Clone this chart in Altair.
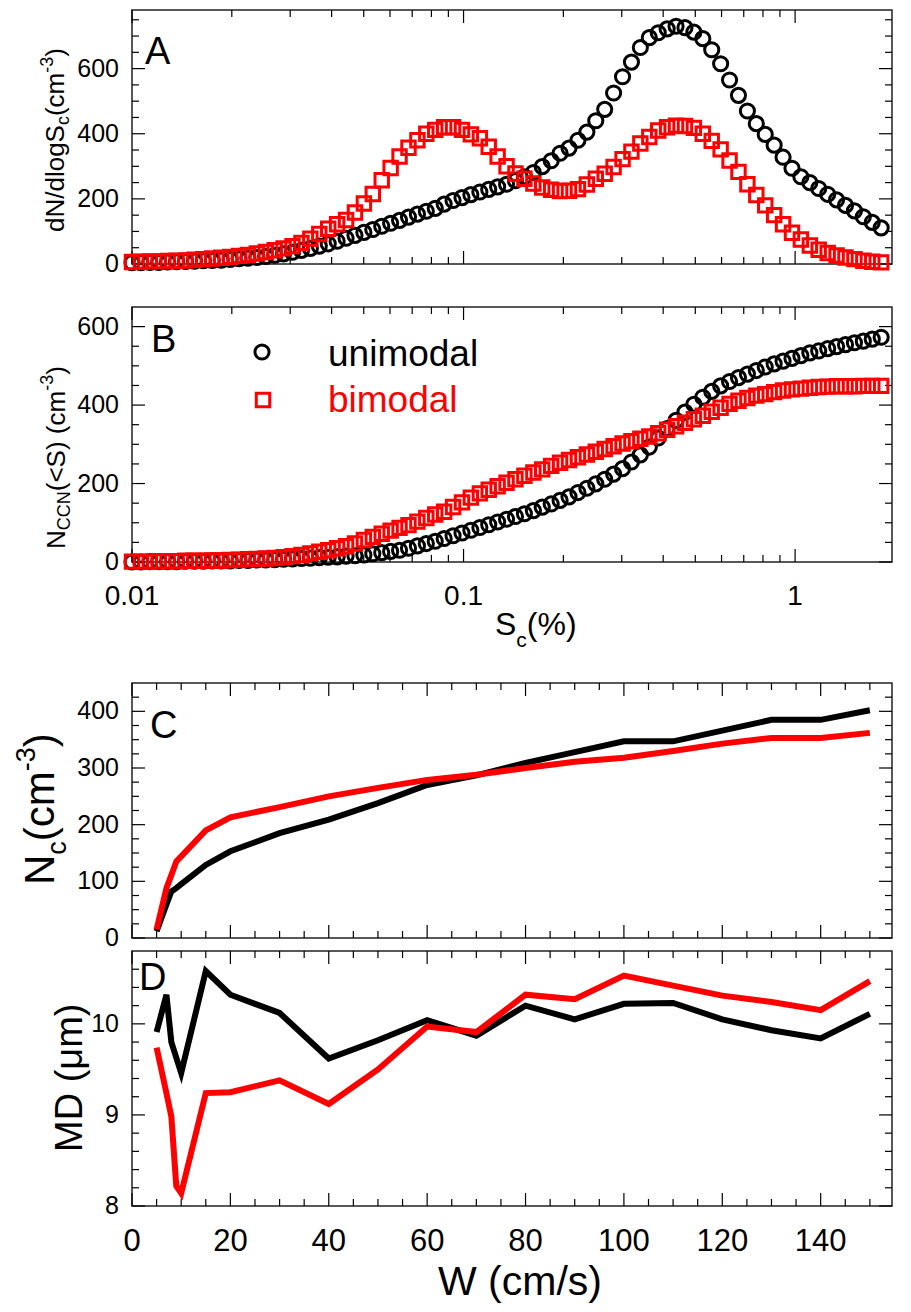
import altair as alt
import pandas as pd

FONT = "Liberation Sans"

# ---------------- data ----------------
S_C = [0.01, 0.01064, 0.01132, 0.01204, 0.01281, 0.01363, 0.0145, 0.01543, 0.01641, 0.01746,
       0.01858, 0.01977, 0.02103, 0.02237, 0.0238, 0.02532, 0.02694, 0.02866, 0.03049, 0.03244,
       0.03451, 0.03672, 0.03907, 0.04156, 0.04422, 0.04704, 0.05005, 0.05325, 0.05665, 0.06027,
       0.06412, 0.06822, 0.07258, 0.07721, 0.08215, 0.0874, 0.09298, 0.09892, 0.1052, 0.112,
       0.1191, 0.1267, 0.1348, 0.1434, 0.1526, 0.1624, 0.1727, 0.1838, 0.1955, 0.208,
       0.2213, 0.2355, 0.2505, 0.2665, 0.2835, 0.3017, 0.3209, 0.3414, 0.3633, 0.3865,
       0.4112, 0.4374, 0.4654, 0.4951, 0.5268, 0.5604, 0.5962, 0.6343, 0.6748, 0.718,
       0.7638, 0.8127, 0.8646, 0.9198, 0.9786, 1.041, 1.108, 1.178, 1.254, 1.334,
       1.419, 1.51, 1.606, 1.709, 1.818]

A_UNIMODAL = [4, 4, 5, 5, 6, 7, 8, 9, 10, 11,
              12, 14, 16, 18, 20, 23, 27, 31, 36, 42,
              48, 55, 62, 70, 79, 88, 97, 106, 116, 125,
              134, 144, 153, 162, 171, 184, 195, 204, 213, 221,
              229, 237, 245, 256, 268, 281, 299, 317, 340, 356,
              380, 405, 440, 475, 525, 575, 620, 665, 695, 710,
              722, 730, 726, 712, 692, 658, 615, 565, 518, 470,
              431, 398, 365, 328, 294, 268, 250, 232, 214, 197,
              180, 163, 145, 128, 111]

A_BIMODAL = [6, 7, 8, 8, 9, 10, 11, 13, 15, 17,
             19, 22, 25, 28, 32, 37, 42, 48, 55, 65,
             78, 92, 108, 122, 135, 158, 186, 215, 257, 295,
             330, 357, 380, 400, 412, 420, 420, 412, 398, 386,
             360, 330, 300, 278, 262, 247, 235, 228, 224, 225,
             230, 244, 262, 277, 298, 322, 345, 370, 390, 410,
             420, 425, 424, 418, 400, 378, 352, 318, 283, 245,
             212, 180, 150, 122, 96, 75, 57, 44, 34, 26,
             20, 15, 10, 7, 5]

B_UNIMODAL = [0, 0, 1, 1, 1, 1, 2, 2, 2, 3,
              3, 3, 4, 4, 5, 5, 6, 7, 8, 9,
              10, 11, 12, 13, 15, 16, 18, 21, 24, 27,
              30, 35, 41, 47, 53, 60, 67, 74, 81, 88,
              95, 102, 109, 116, 123, 131, 140, 148, 157, 166,
              177, 188, 199, 211, 224, 238, 255, 273, 293, 316,
              340, 361, 382, 402, 420, 435, 449, 460, 470, 479,
              488, 497, 505, 512, 519, 526, 533, 538, 544, 549,
              554, 559, 563, 568, 573]

B_BIMODAL = [1, 1, 1, 2, 2, 2, 3, 3, 3, 4,
             4, 5, 6, 7, 8, 9, 10, 12, 15, 18,
             22, 26, 30, 35, 40, 47, 56, 64, 72, 80,
             87, 94, 103, 112, 121, 128, 140, 152, 164, 175,
             184, 193, 202, 211, 220, 228, 236, 245, 253, 260,
             267, 274, 281, 288, 295, 302, 308, 314, 320, 328,
             337, 346, 355, 364, 373, 383, 393, 403, 411, 418,
             424, 428, 433, 437, 440, 442, 444, 446, 447, 448,
             448, 448, 449, 449, 449]

W_CMS = [5, 7, 8, 9, 10, 15, 20, 30, 40, 50, 60, 70, 80, 90, 100, 110, 120, 130, 140, 150]
C_UNIMODAL = [12, 59, 82, 88, 95, 129, 153, 185, 209, 238, 270, 287, 309, 328, 347, 347, 366, 385, 385, 402]
C_BIMODAL = [15, 88, 111, 135, 144, 190, 213, 231, 250, 265, 279, 288, 300, 311, 318, 330, 343, 353, 353, 362]
D_UNIMODAL = [9.91, 10.32, 9.80, 9.63, 9.46, 10.58, 10.32, 10.12, 9.62, 9.82,
              10.04, 9.87, 10.20, 10.05, 10.22, 10.23, 10.05, 9.93, 9.84, 10.11]
D_BIMODAL = [9.74, 9.24, 8.98, 8.22, 8.14, 9.24, 9.25, 9.38, 9.12, 9.50,
             9.97, 9.91, 10.32, 10.27, 10.53, 10.42, 10.31, 10.24, 10.15, 10.47]

# tick positions and tick labels
LOG_MAJOR = [0.01, 0.1, 1]
LOG_LABELS = ["0.01", "0.1", "1"]
LOG_MINOR = [0.02, 0.03, 0.04, 0.05, 0.06, 0.07, 0.08, 0.09,
             0.2, 0.3, 0.4, 0.5, 0.6, 0.7, 0.8, 0.9]
W_MAJOR = [0, 20, 40, 60, 80, 100, 120, 140]
W_MINOR = [5, 10, 15, 25, 30, 35, 45, 50, 55, 65, 70, 75, 85, 90, 95,
           105, 110, 115, 125, 130, 135, 145, 150]
A_Y_MAJOR = [0, 200, 400, 600]
A_Y_MINOR = [50, 100, 150, 250, 300, 350, 450, 500, 550, 650, 700, 750]
B_Y_MAJOR = [0, 200, 400, 600]
B_Y_MINOR = [50, 100, 150, 250, 300, 350, 450, 500, 550]
C_Y_MAJOR = [0, 100, 200, 300, 400]
C_Y_MINOR = [25, 50, 75, 125, 150, 175, 225, 250, 275, 325, 350, 375, 425]
D_Y_MAJOR = [8, 9, 10]
D_Y_MINOR = [8.2, 8.4, 8.6, 8.8, 9.2, 9.4, 9.6, 9.8, 10.2, 10.4, 10.6]

# ---------------- helpers ----------------
PW = 760
MAJ = 13
MIN = 7
TICK_W = 1.2
ONE = pd.DataFrame({"k": [0]})

CHAR_W = {'d': 556, 'N': 722, '/': 278, 'l': 222, 'o': 556, 'g': 556, 'S': 667, 'c': 500,
          '(': 333, 'm': 833, '-': 333, '3': 556, ')': 333, 'C': 722, '<': 584, ' ': 278,
          'M': 833, 'D': 722, 'μ': 576, 'W': 944, 's': 500, '%': 889}


def text_width(s, size):
    return sum(CHAR_W.get(ch, 556) for ch in s) * size / 1000.0


def label(text, x, y, size, color="black", angle=0, align="left"):
    mk = dict(text=text, font=FONT, fontSize=size, color=color, align=align,
              baseline="alphabetic")
    if angle:
        mk["angle"] = angle
    return alt.Chart(ONE).mark_text(**mk).encode(x=alt.value(x), y=alt.value(y))


def vertical_title(parts, x_base, y_start):
    out = []
    y = y_start
    for text, size, shift in parts:
        out.append(label(text, x_base + shift, y, size, angle=270))
        y -= text_width(text, size)
    return out


def horizontal_title(parts, x_start, y_base):
    out = []
    x = x_start
    for text, size, shift in parts:
        out.append(label(text, x, y_base + shift, size))
        x += text_width(text, size)
    return out


def tick_layers(xscale, yscale, xmaj, xmin, ymaj, ymin, H):
    out = []
    for vals, L in ((xmaj, MAJ), (xmin, MIN)):
        d = pd.DataFrame({"v": vals})
        out.append(alt.Chart(d).mark_rule(color="black", strokeWidth=TICK_W).encode(
            x=alt.X("v:Q", scale=xscale, axis=None), y=alt.value(H), y2=alt.value(H - L)))
        out.append(alt.Chart(d).mark_rule(color="black", strokeWidth=TICK_W).encode(
            x=alt.X("v:Q", scale=xscale, axis=None), y=alt.value(0), y2=alt.value(L)))
    for vals, L in ((ymaj, MAJ), (ymin, MIN)):
        d = pd.DataFrame({"v": vals})
        out.append(alt.Chart(d).mark_rule(color="black", strokeWidth=TICK_W).encode(
            y=alt.Y("v:Q", scale=yscale, axis=None), x=alt.value(0), x2=alt.value(L)))
        out.append(alt.Chart(d).mark_rule(color="black", strokeWidth=TICK_W).encode(
            y=alt.Y("v:Q", scale=yscale, axis=None), x=alt.value(PW), x2=alt.value(PW - L)))
    return out


def y_tick_labels(values, yscale, size=25):
    d = pd.DataFrame({"v": values, "lab": [f"{v:g}" for v in values]})
    return alt.Chart(d).mark_text(font=FONT, fontSize=size, align="right", baseline="middle",
                                  color="black").encode(
        y=alt.Y("v:Q", scale=yscale, axis=None), x=alt.value(-13), text="lab:N")


def x_tick_labels(values, texts, xscale, H, size, pad):
    d = pd.DataFrame({"v": values, "lab": texts})
    return alt.Chart(d).mark_text(font=FONT, fontSize=size, align="center", baseline="top",
                                  color="black").encode(
        x=alt.X("v:Q", scale=xscale, axis=None), y=alt.value(H + pad), text="lab:N")


CIRCLE = 200
SQUARE = 180


def points(df, field, shape, color, xscale, yscale, size):
    return alt.Chart(df).mark_point(shape=shape, filled=False, size=size, strokeWidth=3,
                                    color=color, opacity=1).encode(
        x=alt.X("x:Q", scale=xscale, axis=None),
        y=alt.Y(f"{field}:Q", scale=yscale, axis=None),
    )


def line(df, field, color, xscale, yscale):
    return alt.Chart(df).mark_line(color=color, strokeWidth=6).encode(
        x=alt.X("x:Q", scale=xscale, axis=None),
        y=alt.Y(f"{field}:Q", scale=yscale, axis=None),
    )


def spacer(h):
    return alt.Chart(ONE).mark_point(opacity=0).properties(
        width=PW, height=h, view=alt.ViewBackground(stroke="transparent"))


def panel(layers, H):
    return alt.layer(*layers).properties(width=PW, height=H)


# ---------------- panel A ----------------
dfA = pd.DataFrame({"x": S_C, "y1": A_UNIMODAL, "y2": A_BIMODAL})
xs_log = alt.Scale(type="log", domain=[0.01, 1.96], nice=False)
ysA = alt.Scale(domain=[0, 780], nice=False, zero=False)
HA = 254
layersA = tick_layers(xs_log, ysA, LOG_MAJOR, LOG_MINOR, A_Y_MAJOR, A_Y_MINOR, HA)
layersA += [y_tick_labels(A_Y_MAJOR, ysA),
            points(dfA, "y1", "circle", "black", xs_log, ysA, CIRCLE),
            points(dfA, "y2", "square", "red", xs_log, ysA, SQUARE)]
layersA += [label("A", 13, 54, 38)]
layersA += vertical_title(
    [("dN/dlogS", 26, 0), ("c", 18, 5), ("(cm", 26, 0), ("-3", 18, -11), (")", 26, 0)],
    -68, 222)
panelA = panel(layersA, HA)

# ---------------- panel B ----------------
dfB = pd.DataFrame({"x": S_C, "y1": B_UNIMODAL, "y2": B_BIMODAL})
ysB = alt.Scale(domain=[0, 650], nice=False, zero=False)
HB = 255
layersB = tick_layers(xs_log, ysB, LOG_MAJOR, LOG_MINOR, B_Y_MAJOR, B_Y_MINOR, HB)
layersB += [y_tick_labels(B_Y_MAJOR, ysB),
            x_tick_labels(LOG_MAJOR, LOG_LABELS, xs_log, HB, 28, 21),
            points(dfB, "y1", "circle", "black", xs_log, ysB, CIRCLE),
            points(dfB, "y2", "square", "red", xs_log, ysB, SQUARE)]
layersB += [label("B", 19, 45, 38)]
layersB += vertical_title(
    [("N", 26, 0), ("CCN", 18, 5), ("(<S) (cm", 26, 0), ("-3", 18, -12), (")", 26, 0)],
    -67, 242)
layersB += horizontal_title([("S", 32, 0), ("c", 21, 12), ("(%)", 32, 0)], 363, 328)
layersB += [
    alt.Chart(ONE).mark_point(shape="circle", filled=False, size=CIRCLE, strokeWidth=3,
                              color="black", opacity=1).encode(x=alt.value(130), y=alt.value(45)),
    alt.Chart(ONE).mark_point(shape="square", filled=False, size=SQUARE, strokeWidth=3,
                              color="red", opacity=1).encode(x=alt.value(131), y=alt.value(93)),
    label("unimodal", 196, 59, 37),
    label("bimodal", 196, 105, 37, color="red"),
]
panelB = panel(layersB, HB)

# ---------------- panel C ----------------
dfC = pd.DataFrame({"x": W_CMS, "y1": C_UNIMODAL, "y2": C_BIMODAL})
xs_w = alt.Scale(domain=[0, 154.5], nice=False, zero=False)
ysC = alt.Scale(domain=[0, 450], nice=False, zero=False)
HC = 255
layersC = tick_layers(xs_w, ysC, W_MAJOR, W_MINOR, C_Y_MAJOR, C_Y_MINOR, HC)
layersC += [y_tick_labels(C_Y_MAJOR, ysC),
            line(dfC, "y1", "black", xs_w, ysC),
            line(dfC, "y2", "red", xs_w, ysC)]
layersC += [label("C", 18, 55, 38)]
layersC += vertical_title(
    [("N", 42, 0), ("c", 27, 12), ("(cm", 42, 0), ("-3", 27, -19), (")", 42, 0)],
    -78, 202)
panelC = panel(layersC, HC)

# ---------------- panel D ----------------
dfD = pd.DataFrame({"x": W_CMS, "y1": D_UNIMODAL, "y2": D_BIMODAL})
ysD = alt.Scale(domain=[8, 10.8], nice=False, zero=False)
HD = 255
layersD = tick_layers(xs_w, ysD, W_MAJOR, W_MINOR, D_Y_MAJOR, D_Y_MINOR, HD)
layersD += [y_tick_labels(D_Y_MAJOR, ysD),
            x_tick_labels(W_MAJOR, [f"{v:g}" for v in W_MAJOR], xs_w, HD, 31, 21),
            line(dfD, "y1", "black", xs_w, ysD),
            line(dfD, "y2", "red", xs_w, ysD)]
layersD += [label("D", 7, 39, 38)]
layersD += vertical_title([("MD (μm)", 38, 0)], -50, 201)
layersD += [label("W (cm/s)", 388, 344, 41, align="center"),
            alt.Chart(ONE).mark_rule(color="white", strokeWidth=1).encode(
                x=alt.value(-122), y=alt.value(100), y2=alt.value(101))]
panelD = panel(layersD, HD)

chart = alt.vconcat(panelA, spacer(43), panelB, spacer(121), panelC, spacer(13), panelD,
                    spacing=0, bounds="flush").properties(
    padding={"left": 0, "top": 0, "right": 0, "bottom": 0}
).configure_view(stroke="#222222", strokeWidth=1.5)

chart.save("out.html", embed_options={"renderer": "svg", "actions": False})
